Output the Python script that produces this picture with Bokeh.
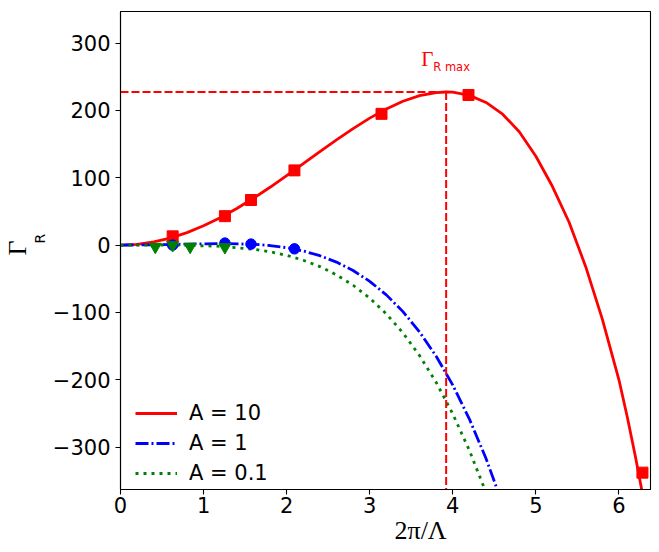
import math
from bokeh.plotting import figure
from bokeh.models import Range1d, FixedTicker, Label, Legend, Title
from bokeh.embed import file_html
from bokeh.resources import INLINE

# ---- theory curves (k = 2*pi/Lambda, Gamma_R) ----
k_a10 = [0, 0.2, 0.4, 0.6, 0.8, 1.0, 1.2, 1.4, 1.6, 1.8, 2.0, 2.2, 2.4, 2.6, 2.8,
         3.0, 3.2, 3.4, 3.6, 3.8, 3.92, 4.0, 4.2, 4.4, 4.6, 4.8, 5.0, 5.2, 5.4,
         5.6, 5.8, 6.0, 6.1, 6.2, 6.3]
g_a10 = [0, 1.2, 4.7, 10.5, 18.6, 28.7, 40.7, 54.4, 69.6, 85.9, 103.1, 120.9,
         138.8, 156.3, 173.1, 188.6, 202.3, 213.7, 222.0, 226.6, 227.4, 227.1,
         222.4, 211.9, 194.5, 168.5, 132, 87, 34, -32, -110, -200, -255, -315, -380]

k_a1 = [0, 0.4, 0.8, 1.2, 1.6, 1.8, 2.0, 2.2, 2.4, 2.6, 2.8, 3.0, 3.2, 3.4, 3.6,
        3.8, 4.0, 4.2, 4.4, 4.6]
g_a1 = [0, 0.5, 1.5, 2.3, 1.3, -0.6, -3.8, -8.7, -15.7, -25.2, -37.7, -53.8,
        -73.9, -98.8, -129, -165.1, -208, -258.4, -317, -385]

k_a01 = [0, 0.4, 0.8, 1.2, 1.6, 1.8, 2.0, 2.2, 2.4, 2.6, 2.8, 3.0, 3.2, 3.4, 3.6,
         3.8, 4.0, 4.2, 4.4]
g_a01 = [0, 0, -0.3, -1.8, -6.1, -9.9, -15.2, -22.4, -31.9, -44.2, -59.6, -78.7,
         -102.1, -130.4, -164.1, -203.9, -250.7, -305, -367.5]

# ---- simulation points ----
km_a10 = [0.628, 1.257, 1.571, 2.094, 3.142, 4.189, 6.283]
gm_a10 = [13, 43, 67, 111, 195, 223, -338]
km_a1 = [0.628, 1.257, 1.571, 2.094]
gm_a1 = [0, 3, 1.5, -5.5]
km_a01 = [0.419, 0.628, 0.838, 1.257]
gm_a01 = [-2.5, 0, -2.5, -3]

# ---- maximum of the A = 10 curve ----
peak_k = 3.92
peak_g = 227.4

x_min, x_max = 0, 6.38
y_min, y_max = -363, 347
x_ticks = [0, 1, 2, 3, 4, 5, 6]
y_ticks = [-300, -200, -100, 0, 100, 200, 300]
y_tick_labels = ["\u2212300", "\u2212200", "\u2212100", "0", "100", "200", "300"]
legend_labels = ["A = 10", "A = 1", "A = 0.1"]

p = figure(width=653, height=550, x_range=Range1d(x_min, x_max),
           y_range=Range1d(y_min, y_max), output_backend="svg",
           toolbar_location=None, min_border_left=118, min_border_right=3,
           min_border_top=11, min_border_bottom=61)

p.xgrid.visible = False
p.ygrid.visible = False
p.outline_line_color = "black"
p.outline_line_width = 1.1
p.outline_line_alpha = 1

p.xaxis.ticker = FixedTicker(ticks=x_ticks)
p.yaxis.ticker = FixedTicker(ticks=y_ticks)
p.yaxis.major_label_overrides = dict(zip(y_ticks, y_tick_labels))
for ax in (p.xaxis, p.yaxis):
    ax.major_tick_out = 5
    ax.major_tick_in = 0
    ax.minor_tick_out = 0
    ax.minor_tick_in = 0
    ax.axis_line_width = 1.1
    ax.major_tick_line_width = 1.1
    ax.axis_line_color = "black"
    ax.major_tick_line_color = "black"
    ax.major_label_text_font = "DejaVu Sans"
    ax.major_label_text_font_size = "21px"
    ax.major_label_text_color = "black"
p.xaxis.major_label_standoff = 2
p.yaxis.major_label_standoff = 5

r1 = p.line(k_a10, g_a10, line_color="red", line_width=2.8)
r2 = p.line(k_a1, g_a1, line_color="blue", line_width=2.8, line_dash="13 3 2 3")
r3 = p.line(k_a01, g_a01, line_color="green", line_width=2.8, line_dash="3 5")

p.line([x_min, peak_k], [peak_g, peak_g], line_color="red", line_width=2,
       line_dash="8 3")
p.line([peak_k, peak_k], [peak_g, y_min], line_color="red", line_width=2,
       line_dash="8 3")

p.scatter(km_a10, gm_a10, marker="square", size=11, color="red")
p.scatter(km_a1, gm_a1, marker="circle", size=10.5, color="blue")
p.scatter(km_a01, gm_a01, marker="inverted_triangle", size=12, color="green")

legend = Legend(items=[(legend_labels[0], [r1]), (legend_labels[1], [r2]),
                       (legend_labels[2], [r3])],
                location=(15, 1), glyph_width=42, glyph_height=30,
                label_height=30, label_standoff=12, spacing=0, padding=0,
                margin=0, border_line_alpha=0, background_fill_alpha=0,
                label_text_font="DejaVu Sans", label_text_font_size="21px",
                label_text_color="black")
p.add_layout(legend)

# x axis label
p.add_layout(Title(text="2\u03c0/\u039b", align="left", offset=274,
                   vertical_align="top", standoff=0,
                   text_font="Liberation Serif", text_font_size="26px",
                   text_font_style="normal", text_color="black"), "below")

# y axis label: Gamma with subscript R
p.add_layout(Title(text="R", align="left", offset=246, vertical_align="top",
                   standoff=0, text_font="DejaVu Sans", text_font_size="14px",
                   text_font_style="normal", text_color="black"), "left")
p.add_layout(Title(text="\u0393", align="left", offset=234, vertical_align="bottom",
                   standoff=0, text_font="Liberation Serif", text_font_size="26px",
                   text_font_style="normal", text_color="black"), "left")

# Gamma_R max annotation
p.add_layout(Label(x=3.62, y=276, text="\u0393", text_font="Liberation Serif",
                   text_font_size="21px", text_color="red",
                   text_baseline="alphabetic", text_align="left"))
p.add_layout(Label(x=3.765, y=264.5, text="R max", text_font="DejaVu Sans",
                   text_font_size="11.5px", text_color="red",
                   text_baseline="alphabetic", text_align="left"))

open("out.html", "w").write(file_html(p, INLINE))
